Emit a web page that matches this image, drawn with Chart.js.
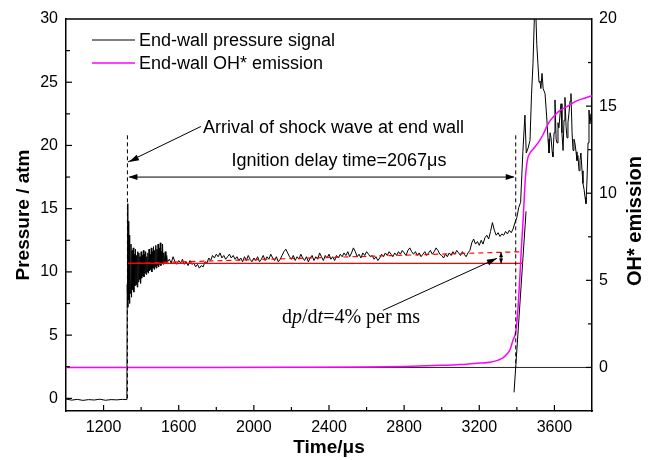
<!DOCTYPE html>
<html>
<head>
<meta charset="utf-8">
<script src="https://cdn.jsdelivr.net/npm/chart.js@4.4.1/dist/chart.umd.min.js"></script>
<style>
  body { margin: 0; background: #fff; }
  canvas { display: block; }
</style>
</head>
<body>
<canvas id="grafico" width="659" height="460"></canvas>
<script>
// ---- data ----
// end-wall pressure, [time µs, pressure atm]
const pressureTrace = [
  [1000,-0.05],[1030,-0.14],[1060,-0.08],[1090,-0.16],[1120,-0.1],[1150,-0.13],[1180,-0.07],
  [1210,-0.15],[1240,-0.1],[1270,-0.12],[1300,-0.08],[1324,-0.1],
  [1326,9.0],[1328,15.4],[1330,7.2],[1332,14.0],[1334,7.8],[1336,12.9],[1338,7.5],[1340,11.8],
  [1343,8.3],[1346,12.2],[1349,8.0],[1352,11.7],[1355,8.6],[1358,11.9],[1361,8.4],[1364,11.4],
  [1367,8.9],[1370,11.8],[1373,9.0],[1376,11.3],[1379,8.8],[1382,11.6],[1385,9.2],[1388,11.5],
  [1391,9.4],[1394,11.2],[1397,9.1],[1400,11.6],[1403,9.5],[1406,11.3],[1409,9.7],[1412,11.7],
  [1415,9.6],[1418,11.4],[1421,9.9],[1424,11.6],[1427,9.8],[1430,11.2],[1433,10.0],[1436,11.5],
  [1439,9.9],[1442,11.8],[1445,10.1],[1448,11.4],[1451,10.2],[1454,11.9],[1457,10.0],[1460,11.6],
  [1463,10.3],[1466,12.0],[1469,10.2],[1472,11.7],[1475,10.4],[1478,12.1],[1481,10.3],[1484,11.8],
  [1487,10.5],[1490,12.2],[1493,10.4],[1496,11.9],[1499,10.6],[1502,12.3],[1505,10.5],[1508,11.6],
  [1511,10.7],[1514,12.2],[1517,10.6],[1520,11.5],[1524,10.8],[1528,11.6],[1532,10.7],[1536,11.3],
  [1540,10.8],[1550,11.0],[1560,10.7],[1570,11.2],[1580,10.8],[1590,10.6],[1600,10.9],[1610,10.7],
  [1620,11.0],[1630,10.6],[1640,10.8],[1650,10.5],[1660,10.9],[1670,10.6],[1680,10.7],[1690,10.4],
  [1700,10.6],[1710,10.3],[1720,10.5],[1730,10.4],[1740,10.8],[1750,10.7],[1760,11.1],[1770,10.9],
  [1780,11.3],[1790,11.1],[1800,11.4],[1810,11.2],[1820,11.5],[1830,11.1],[1840,11.3],[1850,11.0],
  [1860,11.2],[1870,11.4],[1880,11.1],[1890,11.3],[1900,11.0],[1910,11.2],[1920,10.9],[1930,11.1],
  [1940,10.8],[1950,11.2],[1960,10.9],[1970,11.3],[1980,11.0],[1990,10.8],[2000,11.1],[2010,10.9],
  [2020,11.2],[2030,10.8],[2040,11.0],[2050,11.3],[2060,10.9],[2070,11.2],[2080,11.0],[2090,11.4],
  [2100,11.1],[2110,10.9],[2120,11.2],[2130,10.8],[2140,11.0],[2150,11.3],[2160,11.6],[2170,11.8],
  [2180,11.5],[2190,11.2],[2200,11.0],[2210,11.3],[2220,10.9],[2230,11.2],[2240,11.0],[2250,11.4],
  [2260,11.1],[2270,10.9],[2280,11.2],[2290,10.8],[2300,11.1],[2310,11.3],[2320,10.9],[2330,11.2],
  [2340,11.0],[2350,11.5],[2360,11.2],[2370,10.9],[2380,11.3],[2390,11.1],[2400,11.4],[2410,11.0],
  [2420,11.2],[2430,10.9],[2440,11.3],[2450,11.1],[2460,11.4],[2470,11.2],[2480,11.5],[2490,11.3],
  [2500,11.6],[2510,11.2],[2520,11.5],[2530,11.9],[2540,11.6],[2550,11.2],[2560,11.4],[2570,11.1],
  [2580,11.5],[2590,11.3],[2600,11.6],[2610,11.4],[2620,11.2],[2630,11.3],[2640,11.0],[2650,11.2],
  [2660,10.9],[2670,11.1],[2680,11.4],[2690,11.2],[2700,11.5],[2710,11.3],[2720,11.6],[2730,11.4],
  [2740,11.2],[2750,11.5],[2760,11.3],[2770,11.6],[2780,11.4],[2790,11.7],[2800,11.5],[2810,11.3],
  [2820,11.7],[2830,11.9],[2840,11.6],[2850,11.4],[2860,11.6],[2870,11.3],[2880,11.5],[2890,11.2],
  [2900,11.4],[2910,11.6],[2920,11.3],[2930,11.5],[2940,11.7],[2950,11.4],[2960,11.6],[2970,11.9],
  [2980,11.7],[2990,11.4],[3000,11.3],[3010,11.1],[3020,11.4],[3030,11.2],[3040,11.5],[3050,11.3],
  [3060,11.6],[3070,11.4],[3080,11.7],[3090,11.5],[3100,11.3],[3110,11.6],[3120,11.4],[3130,11.2],
  [3140,11.5],[3150,11.7],[3160,12.3],[3170,12.6],[3180,12.2],[3190,12.4],[3200,12.1],[3210,12.5],
  [3220,12.2],[3230,12.7],[3240,12.9],[3250,12.6],[3260,13.2],[3270,13.9],[3280,13.3],[3290,12.9],
  [3300,13.1],[3310,12.8],[3320,13.0],[3330,12.9],[3340,13.2],[3350,13.0],[3360,13.3],[3370,13.1],
  [3380,13.4],[3390,13.9],[3400,14.3],[3410,15.1],[3420,15.5],[3432,19.5],[3443,22.4],[3450,19.4],
  [3460,19.8],[3470,20.4],[3478,24.0],[3486,26.5],[3494,30.5],[3500,31.0],[3506,28.0],[3512,26.5],
  [3518,25.0],[3523,25.1],[3528,24.5],[3534,25.7],[3540,24.5],[3550,24.1],[3560,22.0],[3566,20.5],
  [3571,19.4],[3577,21.0],[3582,20.6],[3588,19.5],[3592,19.1],[3598,21.0],[3603,23.6],[3609,20.5],
  [3614,20.2],[3619,21.8],[3624,21.4],[3630,22.5],[3635,23.3],[3640,21.0],[3646,19.6],[3651,22.0],
  [3656,23.8],[3662,21.5],[3667,20.6],[3672,21.8],[3677,22.5],[3683,23.5],[3688,24.1],[3694,21.0],
  [3699,19.6],[3704,20.5],[3709,20.2],[3715,19.5],[3720,18.8],[3725,19.2],[3731,18.0],[3736,18.8],
  [3741,19.4],[3747,18.0],[3752,17.0],[3758,16.5],[3763,15.9],[3768,15.4],[3774,17.5],[3779,20.2],
  [3784,22.8],[3789,21.7],[3795,22.5],[3800,20.6]
];

// end-wall OH* emission (right axis), [time µs, signal]
const ohTrace = [
  [1000,0],[1400,0],[1800,0],[2200,0.01],[2600,0.03],[2800,0.06],[3000,0.12],[3100,0.17],
  [3200,0.25],[3257,0.3],[3300,0.42],[3326,0.55],[3350,0.8],[3363,1.0],[3379,1.55],[3395,2.1],
  [3406,3.4],[3416,5.2],[3425,7.0],[3434,8.6],[3445,10.8],[3456,11.9],[3470,12.3],[3496,12.65],
  [3520,13.0],[3541,13.4],[3567,14.0],[3600,14.45],[3630,14.75],[3680,15.05],[3718,15.3],
  [3760,15.45],[3800,15.6]
];

// annotation values
const shockTime = 1327;            // µs, arrival of shock wave
const ignitionDelay = 2067;        // µs
const ignitionTime = shockTime + ignitionDelay;
const p5Start = 10.67;             // atm, pressure behind reflected shock
const p5End = 11.6;                // atm, after 4%/ms rise
const fitEnd = 3433;               // µs
const tangentLine = [[3385, -1.43], [3449, 8.96]];   // OH* slope line, right axis

const xTicksLabelled = [1200, 1600, 2000, 2400, 2800, 3200, 3600];

Chart.defaults.font.family = '"Liberation Sans", Arial, sans-serif';
Chart.defaults.color = '#000';

const toXY = (arr) => arr.map(([x, y]) => ({ x, y }));

// helpers for the drawn notes
function seg(ctx, x1, y1, x2, y2, dash) {
  ctx.save();
  ctx.setLineDash(dash || []);
  ctx.beginPath();
  ctx.moveTo(x1, y1);
  ctx.lineTo(x2, y2);
  ctx.stroke();
  ctx.restore();
}
function head(ctx, fx, fy, tx, ty, len, half) {
  const a = Math.atan2(ty - fy, tx - fx);
  ctx.beginPath();
  ctx.moveTo(tx, ty);
  ctx.lineTo(tx - len * Math.cos(a) + half * Math.sin(a), ty - len * Math.sin(a) - half * Math.cos(a));
  ctx.lineTo(tx - len * Math.cos(a) - half * Math.sin(a), ty - len * Math.sin(a) + half * Math.cos(a));
  ctx.closePath();
  ctx.fill();
}
const onStep = (v, s) => Math.abs(v / s - Math.round(v / s)) < 1e-6;

const notes = {
  id: 'notes',
  afterDraw(chart) {
    const { ctx, chartArea: a, scales } = chart;
    const X = (v) => scales.x.getPixelForValue(v);
    const Y = (v) => scales.y.getPixelForValue(v);
    const Y2 = (v) => scales.y2.getPixelForValue(v);
    ctx.save();
    ctx.strokeStyle = '#000';
    ctx.fillStyle = '#000';
    ctx.lineWidth = 1.5;

    // top frame line
    seg(ctx, a.left, a.top, a.right, a.top);

    // inward ticks
    ctx.lineWidth = 1.2;
    scales.x.ticks.forEach(({ value }) => {
      if (value <= scales.x.min || value >= scales.x.max || !onStep(value, 200)) return;
      const len = onStep(value, 400) ? 6 : 4;
      seg(ctx, X(value), a.bottom, X(value), a.bottom - len);
    });
    scales.y.ticks.forEach(({ value }) => {
      if (value <= scales.y.min || value >= scales.y.max || !onStep(value, 2.5)) return;
      const len = onStep(value, 5) ? 6 : 4;
      seg(ctx, a.left, Y(value), a.left + len, Y(value));
    });
    scales.y2.ticks.forEach(({ value }) => {
      if (value <= scales.y2.min || value >= scales.y2.max || !onStep(value, 2.5)) return;
      const len = onStep(value, 5) ? 6 : 4;
      seg(ctx, a.right, Y2(value), a.right - len, Y2(value));
    });

    // right axis title, reading upwards
    ctx.save();
    ctx.translate(635, 221);
    ctx.rotate(-Math.PI / 2);
    ctx.font = 'bold 20px "Liberation Sans", Arial';
    ctx.textAlign = 'center';
    ctx.textBaseline = 'middle';
    ctx.fillText('OH* emission', 0, 0);
    ctx.restore();

    // legend
    ctx.font = '18px "Liberation Sans", Arial';
    ctx.textBaseline = 'middle';
    ctx.textAlign = 'left';
    ctx.lineWidth = 1;
    seg(ctx, 92, 40, 135, 40);
    ctx.fillText('End-wall pressure signal', 139, 41);
    ctx.strokeStyle = '#ff00ff';
    ctx.lineWidth = 1.5;
    seg(ctx, 92, 63, 135, 63);
    ctx.fillText('End-wall OH* emission', 139, 64);
    ctx.strokeStyle = '#000';

    // dashed markers at shock arrival and ignition
    ctx.lineWidth = 1;
    seg(ctx, X(shockTime), Y(20.8), X(shockTime), Y(0), [4, 3]);
    seg(ctx, X(ignitionTime), Y(20.8), X(ignitionTime), Y2(0), [4, 3]);

    // ignition delay double arrow
    const ya = Y(17.5);
    seg(ctx, X(shockTime) + 2, ya, X(ignitionTime) - 2, ya);
    head(ctx, X(shockTime) + 10, ya, X(shockTime) + 1, ya, 9, 3);
    head(ctx, X(ignitionTime) - 10, ya, X(ignitionTime) - 1, ya, 9, 3);
    ctx.textAlign = 'center';
    ctx.fillText('Ignition delay time=2067\u03BCs', X(2453), Y(18.8));

    // shock arrival note
    ctx.textAlign = 'left';
    ctx.fillText('Arrival of shock wave at end wall', X(1729), Y(21.4));
    seg(ctx, X(1718), Y(21.5), X(1330), Y(18.7));
    head(ctx, X(1718), Y(21.5), X(1330) + 1, Y(18.7), 10, 3);

    // small dp marker
    const xm = X(3316);
    seg(ctx, xm, Y(p5End - 0.05), xm, Y(p5Start));
    head(ctx, xm, Y(p5Start) - 4, xm, Y(p5End - 0.05), 5, 2);
    head(ctx, xm, Y(p5End - 0.05) + 4, xm, Y(p5Start), 5, 2);

    // dp/dt note
    seg(ctx, X(2687), Y(6.96), X(3294), Y(11.07));
    head(ctx, X(2687), Y(6.96), X(3294), Y(11.07), 10, 3);
    const parts = [['d', ''], ['p', 'italic '], ['/d', ''], ['t', 'italic '], ['=4% per ms', '']];
    let tx = X(2150);
    const ty = Y(5.93);
    ctx.textBaseline = 'alphabetic';
    parts.forEach(([s, style]) => {
      ctx.font = style + '20px "Liberation Serif", "Times New Roman", serif';
      ctx.fillText(s, tx, ty);
      tx += ctx.measureText(s).width;
    });
    ctx.restore();
  }
};

const grafico = new Chart(document.getElementById('grafico'), {
  type: 'line',
  data: {
    datasets: [
      {
        label: 'End-wall OH* emission',
        data: toXY(ohTrace),
        yAxisID: 'y2',
        borderColor: '#ff00ff',
        borderWidth: 1.5,
        pointRadius: 0,
        cubicInterpolationMode: 'monotone',
      },
      {
        label: 'p5',
        data: toXY([[shockTime, p5Start], [fitEnd, p5Start]]),
        yAxisID: 'y',
        borderColor: '#ff0000',
        borderWidth: 1.3,
        pointRadius: 0,
      },
      {
        label: 'p5 rise',
        data: toXY([[shockTime, p5Start], [fitEnd, p5End]]),
        yAxisID: 'y',
        borderColor: '#ff0000',
        borderWidth: 1.2,
        borderDash: [5, 4],
        pointRadius: 0,
      },
      {
        label: 'End-wall pressure signal',
        data: toXY(pressureTrace),
        yAxisID: 'y',
        borderColor: '#000',
        borderWidth: 1,
        pointRadius: 0,
        tension: 0,
      },
      {
        label: 'tangent',
        data: toXY(tangentLine),
        yAxisID: 'y2',
        borderColor: '#000',
        borderWidth: 1,
        pointRadius: 0,
      },
      {
        label: 'zero',
        data: toXY([[1000, 0], [3800, 0]]),
        yAxisID: 'y2',
        borderColor: '#222',
        borderWidth: 1,
        pointRadius: 0,
      },
    ],
  },
  options: {
    responsive: false,
    animation: false,
    layout: { padding: { top: 19, left: 0, right: 0, bottom: 0 } },
    plugins: { legend: { display: false }, tooltip: { enabled: false } },
    scales: {
      x: {
        type: 'linear',
        min: 1000,
        max: 3800,
        afterFit: (s) => { s.height = 49; },
        grid: { display: false, drawTicks: false },
        border: { color: '#000', width: 1.5 },
        ticks: {
          stepSize: 200,
          autoSkip: false,
          maxRotation: 0,
          padding: 7,
          font: { size: 16 },
          callback: (v) => (xTicksLabelled.includes(v) ? String(v) : ''),
        },
        title: {
          display: true,
          text: 'Time/\u03BCs',
          font: { size: 19, weight: 'bold' },
          padding: { top: 0, bottom: 1 },
        },
      },
      y: {
        position: 'left',
        min: -1,
        max: 30,
        afterFit: (s) => { s.width = 66; },
        grid: { display: false, drawTicks: false },
        border: { color: '#000', width: 1.5 },
        ticks: {
          stepSize: 2.5,
          includeBounds: false,
          padding: 8,
          font: { size: 16 },
          callback: (v) => (onStep(v, 5) ? String(v) : ''),
        },
        title: {
          display: true,
          text: 'Pressure / atm',
          font: { size: 19, weight: 'bold' },
          padding: { top: 12, bottom: 0 },
        },
      },
      y2: {
        position: 'right',
        min: -2.5,
        max: 20,
        afterFit: (s) => { s.width = 67; },
        grid: { display: false, drawTicks: false },
        border: { color: '#000', width: 1.5 },
        ticks: {
          stepSize: 2.5,
          padding: 7,
          font: { size: 16 },
          callback: (v) => (onStep(v, 5) && v >= 0 ? String(v) : ''),
        },
      },
    },
  },
  plugins: [notes],
});
</script>
</body>
</html>
